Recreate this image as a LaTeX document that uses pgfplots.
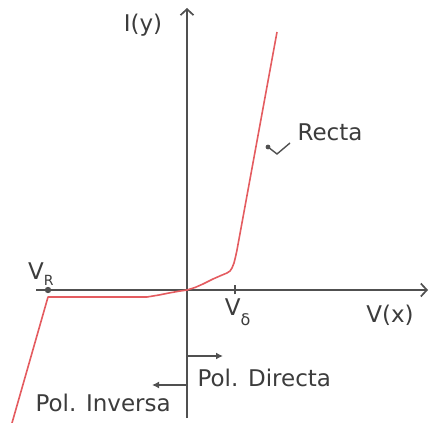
\documentclass[border=0pt]{standalone}
\usepackage{pgfplots}
\pgfplotsset{compat=1.18}
\usepackage{fontspec}
\setmainfont{DejaVu Sans}
\usetikzlibrary{arrows.meta}
\definecolor{axisgray}{RGB}{80,80,80}
\definecolor{txtgray}{RGB}{60,60,60}
\definecolor{curvered}{RGB}{228,92,96}

\begin{document}
\begin{tikzpicture}[font=\fontsize{23bp}{27bp}\selectfont]
\begin{axis}[
  scale only axis,
  width=392bp, height=410bp,
  xmin=-151, xmax=241,
  ymin=-128, ymax=282,
  axis lines=middle,
  ticks=none,
  clip=false,
  axis line style={draw=axisgray, line width=1.7bp,
    -{Straight Barb[length=6bp,width=13bp]}},
]
% diode characteristic: reverse breakdown, leakage, knee and forward line
\addplot[curvered, line width=1.6bp, line join=round] coordinates {
  (-175,-133) (-139,-7) (-40,-7) (-28,-5) (-18,-3) (-8,-1.2) (0,0)
  (8,2.5) (16,6) (26,11) (34,14.5) (40,17) (43,19) (45,22) (47,27)
  (48.5,33) (50,40) (90,258)
};

% markers on the voltage axis
\fill[axisgray] (axis cs:-139,0) circle[radius=3.2bp];
\draw[axisgray, line width=1.8bp] (axis cs:48,-4.5) -- (axis cs:48,4.5);

% axis labels
\node[txtgray] at (axis cs:-44,265) {I(y)};
\node[txtgray] at (axis cs:203,-25) {V(x)};
\node[txtgray] at (axis cs:-146,16) {V\textsubscript{\raisebox{-3bp}{\fontsize{14bp}{16bp}\selectfont R}}};
\node[txtgray] at (axis cs:51,-22) {V\textsubscript{\raisebox{-6bp}{\fontsize{16bp}{16bp}\selectfont δ}}};

% straight-line region note
\node[txtgray] at (axis cs:143,158) {Recta};
\draw[axisgray, line width=1.4bp] (axis cs:81,143) -- (axis cs:90,136) -- (axis cs:103,147);
\fill[axisgray] (axis cs:81,143) circle[radius=2.4bp];

% bias direction arrows
\draw[axisgray, line width=1.5bp, -{Latex[length=7bp,width=7bp]}] (axis cs:0,-66) -- (axis cs:36,-66);
\node[txtgray, anchor=west] at (axis cs:7,-88) {Pol. Directa};
\draw[axisgray, line width=1.5bp, -{Latex[length=7bp,width=7bp]}] (axis cs:0,-95) -- (axis cs:-35,-95);
\node[txtgray, anchor=west] at (axis cs:-155,-113) {Pol. Inversa};
\end{axis}
\pgfresetboundingbox
\path ([shift={(-36bp,-5bp)}]current axis.south west) rectangle ([shift={(1bp,8bp)}]current axis.north east);
\end{tikzpicture}
\end{document}
